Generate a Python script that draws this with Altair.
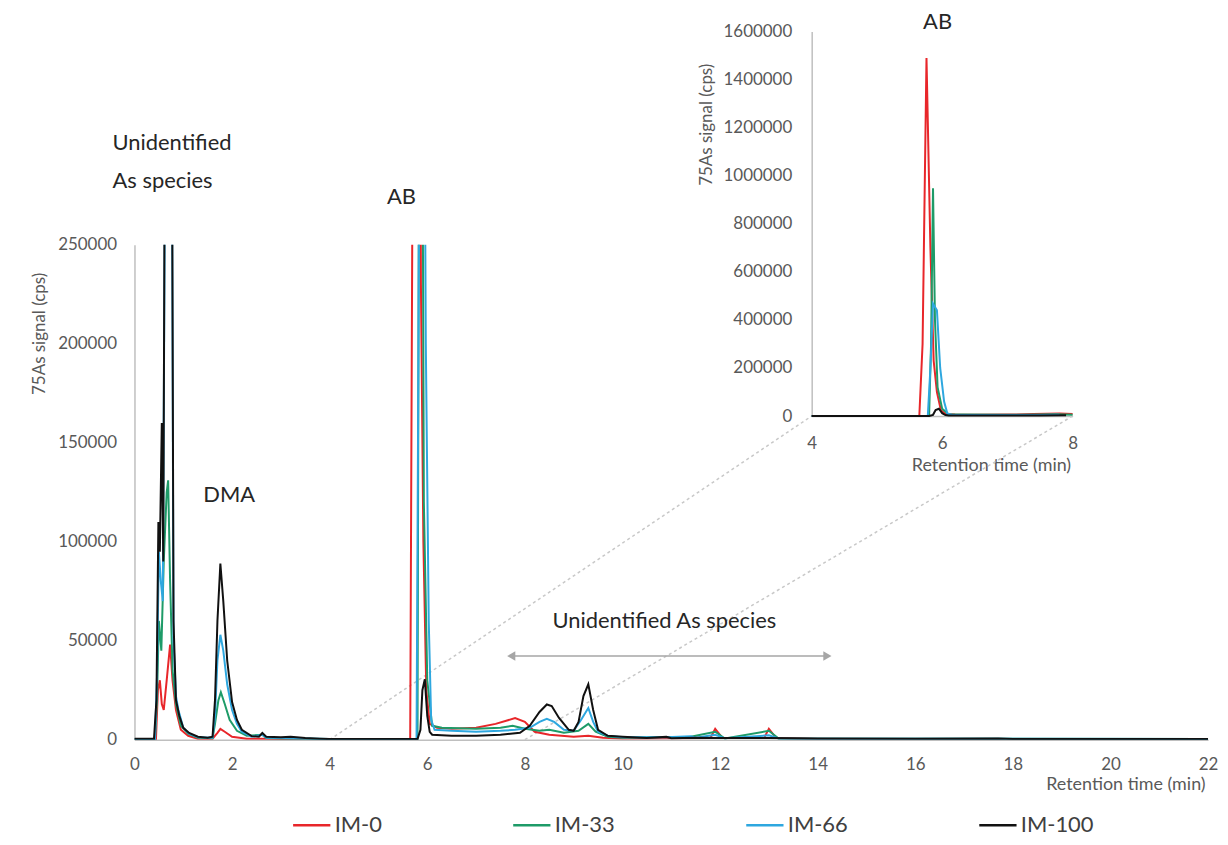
import altair as alt
import pandas as pd

SERIES = ["IM-0", "IM-33", "IM-66", "IM-100"]
COLORS = ["#E8262A", "#1E9B68", "#2EA7DF", "#111111"]

# ---- chromatogram readings (time in min, signal in cps) ----
t_im0 = [0.0, 0.44, 0.48, 0.52, 0.56, 0.60, 0.66, 0.73, 0.78, 0.85, 0.95, 1.1, 1.3, 1.6, 1.7, 1.76, 1.85, 2.0, 2.3,
         4.0, 5.65, 5.70, 5.76, 5.82, 5.87, 5.92, 5.98, 6.05, 6.2, 6.5, 7.0, 7.4, 7.8, 8.0, 8.2, 8.5, 9.0, 9.3, 9.6,
         10.0, 11.8, 11.9, 12.05, 12.9, 13.0, 13.15, 14.0, 22.0]
v_im0 = [200, 200, 25000, 30000, 18000, 15000, 30000, 48000, 30000, 15000, 5000, 2000, 500, 500, 3500, 5500, 4000, 1500, 500,
         200, 200, 300000, 1490000, 700000, 230000, 100000, 25000, 8000, 6000, 5500, 6000, 8000, 10900, 9000, 4000, 2500, 1500, 2000, 1000,
         600, 800, 5500, 800, 800, 5500, 800, 400, 300]

t_im33 = [0.0, 0.42, 0.46, 0.50, 0.55, 0.60, 0.66, 0.69, 0.73, 0.78, 0.85, 0.95, 1.1, 1.3, 1.6, 1.65, 1.72, 1.77, 1.85, 1.95,
          2.1, 2.3, 2.62, 2.7, 3.0, 4.0, 5.8, 5.83, 5.86, 5.89, 5.93, 6.0, 6.1, 6.3, 7.0, 7.5, 7.75, 8.0, 8.3, 8.5, 8.8,
          9.1, 9.3, 9.45, 9.7, 10.0, 11.4, 11.9, 12.1, 13.0, 13.2, 22.0]
v_im33 = [300, 300, 20000, 60000, 45000, 90000, 125000, 131000, 80000, 35000, 18000, 7000, 3000, 1000, 800, 8000, 20000, 24000, 18000, 10000,
          4500, 2000, 2500, 800, 600, 300, 300, 300000, 948000, 400000, 120000, 30000, 7000, 6000, 5500, 6000, 7000, 5500, 4500, 5000, 3500,
          4500, 8000, 4000, 1500, 1000, 1500, 4000, 600, 4500, 600, 400]

t_im66 = [0.0, 0.42, 0.46, 0.50, 0.54, 0.58, 0.62, 0.70, 0.77, 0.80, 0.85, 0.9, 1.0, 1.12, 1.3, 1.6, 1.65, 1.70, 1.76, 1.82,
          1.9, 2.0, 2.1, 2.2, 2.4, 2.62, 2.7, 3.0, 4.0, 5.78, 5.82, 5.86, 5.92, 5.97, 6.03, 6.08, 6.15, 6.5, 7.0, 7.5, 7.8,
          8.1, 8.3, 8.45, 8.6, 8.8, 9.0, 9.15, 9.3, 9.4, 9.5, 9.7, 10.0, 10.9, 11.4, 11.5, 11.9, 12.1, 13.0, 13.2, 14.0, 22.0]
v_im66 = [300, 300, 30000, 95000, 80000, 70000, 260000, 500000, 280000, 50000, 22000, 15000, 6000, 3000, 1200, 1000, 12000, 40000, 53000, 45000,
          28000, 15000, 8000, 4000, 1500, 2500, 1000, 800, 300, 300, 200000, 468000, 440000, 200000, 60000, 10000, 5000, 4500, 4000, 4500, 5000,
          6000, 9000, 10500, 9000, 5000, 4500, 10000, 16000, 9000, 4000, 2000, 1200, 1200, 1800, 1000, 2500, 700, 2200, 600, 500, 400]

t_im100 = [0.0, 0.40, 0.45, 0.49, 0.52, 0.56, 0.59, 0.62, 0.70, 0.77, 0.80, 0.85, 0.92, 1.0, 1.12, 1.3, 1.5, 1.6, 1.65, 1.70,
           1.76, 1.82, 1.9, 2.0, 2.1, 2.2, 2.4, 2.55, 2.62, 2.7, 3.0, 3.2, 3.5, 3.8, 4.0, 5.0, 5.8, 5.86, 5.90, 5.95, 6.0,
           6.05, 6.1, 6.5, 7.0, 7.5, 7.9, 8.1, 8.3, 8.45, 8.55, 8.7, 8.9, 9.0, 9.1, 9.2, 9.3, 9.4, 9.5, 9.7, 10.0, 10.5,
           10.9, 11.0, 11.5, 12.0, 13.0, 14.0, 16.0, 17.7, 18.0, 20.0, 22.0]
v_im100 = [500, 500, 20000, 110000, 95000, 160000, 90000, 300000, 600000, 300000, 60000, 20000, 12000, 6000, 3400, 1500, 1000, 1500, 20000, 60000,
           89000, 70000, 40000, 19000, 10000, 5000, 1800, 1500, 3400, 1500, 1200, 1500, 800, 500, 300, 300, 300, 5000, 25000, 30500, 12000,
           4000, 2500, 2000, 2000, 2500, 3500, 7000, 14000, 17800, 17000, 11000, 5000, 4500, 9000, 22000, 28000, 15000, 5000, 2000, 1500, 800,
           1500, 700, 1000, 900, 800, 600, 500, 600, 400, 400, 400]

# ---- annotations ----
ann_text = ["Unidentified", "As species", "AB", "DMA", "Unidentified As species"]
ann_t = [-0.45, -0.45, 5.47, 1.94, 10.86]
ann_v = [301300, 282200, 274100, 123700, 59860]
ann_align = ["left", "left", "center", "center", "center"]

arrow_t = [7.72, 14.2]
arrow_v = 42250

inset_label = "AB"
inset_label_t = 5.93
inset_label_v = 1640000

# ---- layout constants (pixels) ----
W, H = 1078, 497
IN_X = [680, 942]      # inset x range relative to main plot origin
IN_Y = [172, -214]     # inset y range (value 0 -> 1.6M)
FONT = "Lato"
GRAY = "#595959"

rows = []
for name, ts, vs in zip(SERIES, [t_im0, t_im33, t_im66, t_im100], [v_im0, v_im33, v_im66, v_im100]):
    for t, v in zip(ts, vs):
        rows.append({"series": name, "t": t, "v": v})
df = pd.DataFrame(rows)

ann_df = pd.DataFrame({"label": ann_text, "t": ann_t, "v": ann_v, "align": ann_align})
arrow_df = pd.DataFrame({"t": [arrow_t[0]], "t2": [arrow_t[1]], "v": [arrow_v]})
head_df = pd.DataFrame({"t": arrow_t, "v": [arrow_v, arrow_v], "shape": ["triangle-left", "triangle-right"]})

xs_main = alt.Scale(domain=[0, 22], nice=False, zero=False)
ys_main = alt.Scale(domain=[0, 250000], nice=False)

color = alt.Color(
    "series:N",
    scale=alt.Scale(domain=SERIES, range=COLORS),
    legend=alt.Legend(
        title=None, orient="none", legendX=158, legendY=563, direction="horizontal", columns=4,
        symbolType="stroke", symbolSize=1400, symbolStrokeWidth=2.5, labelFontSize=22, labelFont=FONT,
        labelColor="#404040", columnPadding=126, gridAlign="each", labelOffset=3,
    ),
)

main_lines = alt.Chart(df).mark_line(strokeWidth=2, clip=True).encode(
    x=alt.X("t:Q", scale=xs_main, axis=alt.Axis(
        values=list(range(0, 23, 2)), grid=False, ticks=False, domainColor="#BFBFBF", domainWidth=1.5,
        labelFontSize=17, labelColor=GRAY, labelFont=FONT, labelPadding=17, labelFlush=False,
        title="Retention time (min)", titleFontSize=18, titleColor=GRAY, titleFont=FONT, titleFontWeight="normal",
        titleX=995, titleY=45, titleAlign="center", titleBaseline="middle",
    )),
    y=alt.Y("v:Q", scale=ys_main, axis=alt.Axis(
        values=list(range(0, 250001, 50000)), format="d", grid=False, ticks=False, domainColor="#BFBFBF",
        domainWidth=1.5, labelFontSize=17, labelColor=GRAY, labelFont=FONT, labelPadding=18,
        title="75As signal (cps)", titleFontSize=17, titleColor=GRAY, titleFont=FONT, titleFontWeight="normal",
        titleX=-95, titleY=89, titleAngle=270, titleAlign="center", titleBaseline="middle",
    )),
    color=color,
)

ann_left = alt.Chart(ann_df[ann_df["align"] == "left"]).mark_text(
    font=FONT, fontSize=22, color="#262626", baseline="middle", align="left"
).encode(x="t:Q", y="v:Q", text="label:N")
ann_center = alt.Chart(ann_df[ann_df["align"] == "center"]).mark_text(
    font=FONT, fontSize=22, color="#262626", baseline="middle", align="center"
).encode(x="t:Q", y="v:Q", text="label:N")

arrow = alt.Chart(arrow_df).mark_rule(color="#A6A6A6", strokeWidth=1.5).encode(
    x="t:Q", x2="t2:Q", y="v:Q"
)
heads = alt.Chart(head_df).mark_point(filled=True, color="#A6A6A6", size=90, opacity=1).encode(
    x="t:Q", y="v:Q", shape=alt.Shape("shape:N", scale=None)
)

conn_df = pd.DataFrame({"t": [4.0], "v": [0.0]})
conn1 = alt.Chart(conn_df).mark_rule(color="#C8C8C8", strokeWidth=1.5, strokeDash=[3, 3]).encode(
    x="t:Q", y="v:Q", x2=alt.value(IN_X[0]), y2=alt.value(IN_Y[0])
)
conn_df2 = pd.DataFrame({"t": [8.0], "v": [0.0]})
conn2 = alt.Chart(conn_df2).mark_rule(color="#C8C8C8", strokeWidth=1.5, strokeDash=[3, 3]).encode(
    x="t:Q", y="v:Q", x2=alt.value(IN_X[1]), y2=alt.value(IN_Y[0])
)

main = alt.layer(conn1, conn2, arrow, heads, ann_left, ann_center, main_lines)

# ---- inset ----
xs_in = alt.Scale(domain=[4, 8], range=IN_X, nice=False, zero=False)
ys_in = alt.Scale(domain=[0, 1600000], range=IN_Y, nice=False)

inset_x_axis = alt.Axis(
    orient="bottom", offset=IN_Y[0] - H, values=[4, 6, 8], format="d", grid=False, ticks=False,
    domainColor="#BFBFBF", domainWidth=1.5, labelFontSize=17, labelColor=GRAY, labelFont=FONT,
    labelPadding=20, labelFlush=False,
    title="Retention time (min)", titleFontSize=18, titleColor=GRAY, titleFont=FONT, titleFontWeight="normal",
    titleX=860, titleY=50, titleAlign="center", titleBaseline="middle",
)
inset_y_axis = alt.Axis(
    orient="left", offset=-IN_X[0], values=list(range(0, 1600001, 200000)), format="d", grid=False,
    ticks=False, domainColor="#BFBFBF", domainWidth=1.5, labelFontSize=17, labelColor=GRAY, labelFont=FONT,
    labelPadding=20,
    title="75As signal (cps)", titleFontSize=17, titleColor=GRAY, titleFont=FONT, titleFontWeight="normal",
    titleX=-106, titleY=-121, titleAngle=270, titleAlign="center", titleBaseline="middle",
)

inset_lines = alt.Chart(df).transform_filter(
    (alt.datum.t >= 4) & (alt.datum.t <= 8)
).mark_line(strokeWidth=2, clip=False).encode(
    x=alt.X("t:Q", scale=xs_in, axis=inset_x_axis),
    y=alt.Y("v:Q", scale=ys_in, axis=inset_y_axis),
    color=alt.Color("series:N", scale=alt.Scale(domain=SERIES, range=COLORS), legend=None),
)

inset_txt = alt.Chart(pd.DataFrame({"label": [inset_label], "t": [inset_label_t], "v": [inset_label_v]})).mark_text(
    font=FONT, fontSize=22, color="#262626", baseline="middle", align="center"
).encode(x=alt.X("t:Q", scale=xs_in), y=alt.Y("v:Q", scale=ys_in), text="label:N")

inset = alt.layer(inset_lines, inset_txt)

chart = alt.layer(main, inset).resolve_scale(x="independent", y="independent").properties(
    width=W, height=H, autosize="none", background="white",
    padding={"left": 127, "top": 236, "right": 12, "bottom": 100},
).configure_view(stroke=None, strokeWidth=0)

chart.save("out.html", embed_options={"renderer": "svg", "actions": False})
